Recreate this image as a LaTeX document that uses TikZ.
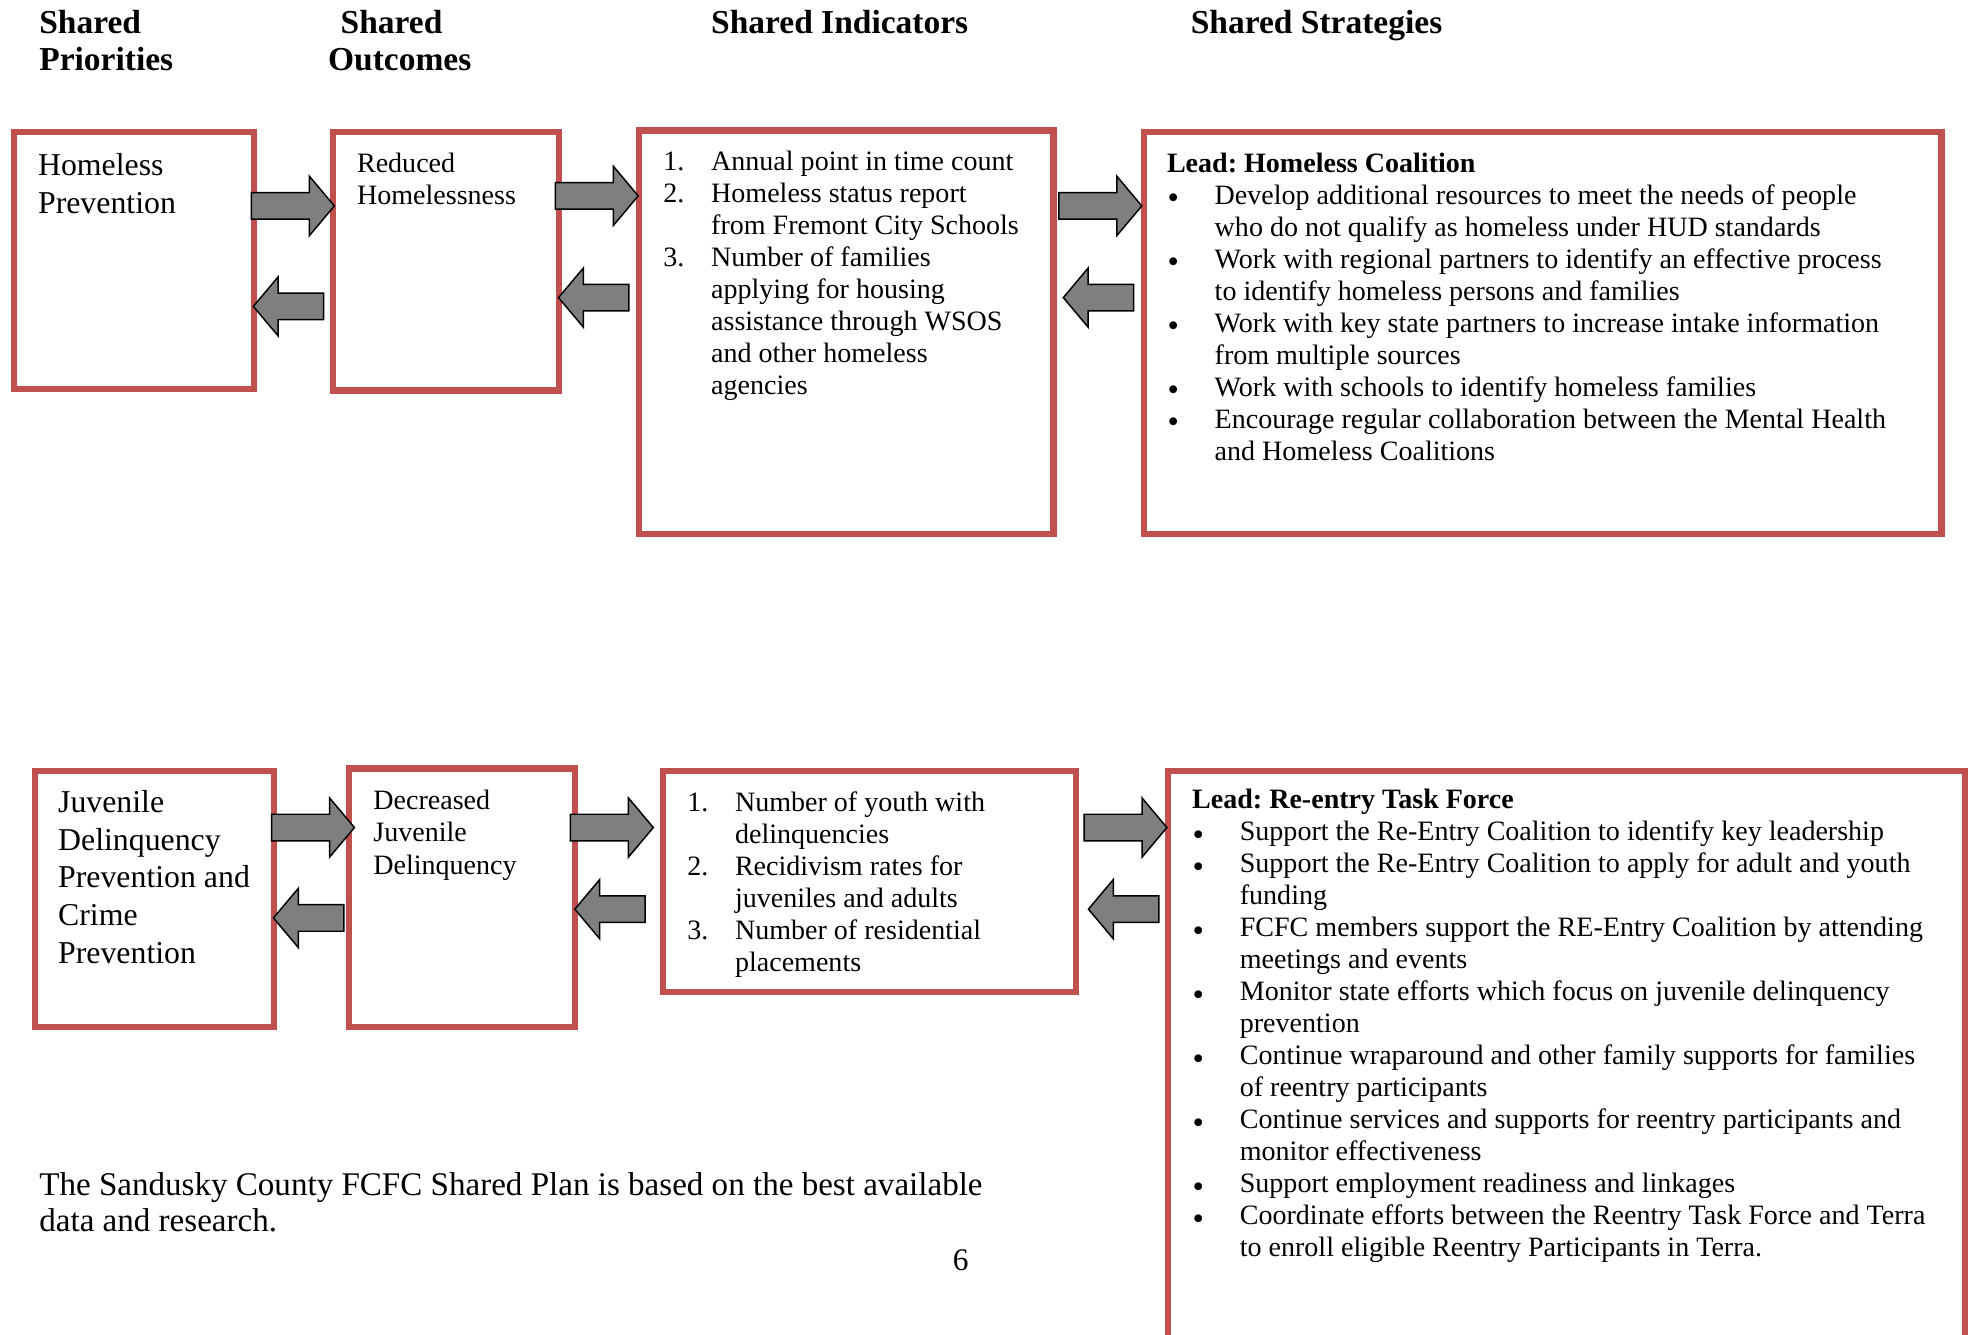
\documentclass[tikz,border=0pt]{standalone}
\usepackage{fontspec}
\setmainfont{Liberation Serif}
\usepackage{tikz}
\usetikzlibrary{shapes,arrows,positioning,fit}
\usepackage{xcolor}
\frenchspacing

\definecolor{boxred}{HTML}{C0504D}
\definecolor{arrowgray}{HTML}{7F7F7F}
\newcommand{\bul}{\makebox[6pt]{\raisebox{-2.2pt}{\fontsize{15.5}{0}\selectfont\textbullet}}}

\tikzset{
    box/.style={draw=boxred, line width=3pt, inner sep=0pt},
    body/.style={anchor=base west, inner sep=0pt, font=\fontsize{13.4}{15.3}\selectfont},
    bigtext/.style={anchor=base west, inner sep=0pt, font=\fontsize{15.2}{18}\selectfont},
    head/.style={anchor=base west, inner sep=0pt, font=\bfseries\fontsize{16}{17.4}\selectfont},
    fwd/.style={single arrow, draw=black, fill=arrowgray, line width=0.7pt,
        inner xsep=0pt, inner ysep=6pt,
        minimum height=39.6pt, minimum width=27.6pt, single arrow head extend=7.8pt,
        single arrow tip angle=100, anchor=tip},
    back/.style={fwd, minimum height=33.6pt, shape border rotate=180}
}

\begin{document}
\begin{tikzpicture}[x=0.6pt, y=-0.6pt]
    \useasboundingbox (0,0) rectangle (1568,1063);

    % column headings
    \node[head] (hprio) at (31,27) {\begin{tabular}[t]{@{}l@{}}Shared\\Priorities\end{tabular}};
    \node[head] (houtc) at (261,27) {\begin{tabular}[t]{@{}l@{}}\hspace{6pt}Shared\\Outcomes\end{tabular}};
    \node[head] (hind) at (566,27) {Shared Indicators};
    \node[head] (hstrat) at (948,27) {Shared Strategies};

    % first row: homelessness
    \node[box, fit={(11,105) (202,310)}] (prio1) {};
    \node[box, fit={(265,105) (445,311)}] (outc1) {};
    \node[box, fit={(509,104) (839,425)}] (ind1) {};
    \node[box, fit={(911,105) (1546,425)}] (strat1) {};

    \node[bigtext] (prio1txt) at (30,140) {\begin{tabular}[t]{@{}l@{}}Homeless\\Prevention\end{tabular}};
    \node[body] (outc1txt) at (284,137) {\begin{tabular}[t]{@{}l@{}}Reduced\\Homelessness\end{tabular}};
    \node[body] (ind1txt) at (528,136) {\begin{tabular}[t]{@{}p{22.8pt}@{}l@{}}
        1. & Annual point in time count\\
        2. & Homeless status report\\
           & from Fremont City Schools\\
        3. & Number of families\\
           & applying for housing\\
           & assistance through WSOS\\
           & and other homeless\\
           & agencies
    \end{tabular}};
    \node[body] (strat1txt) at (929,137) {\begin{tabular}[t]{@{}p{22.8pt}@{}l@{}}
        \multicolumn{2}{@{}l@{}}{\bfseries Lead: Homeless Coalition}\\
        \bul & Develop additional resources to meet the needs of people\\
             & who do not qualify as homeless under HUD standards\\
        \bul & Work with regional partners to identify an effective process\\
             & to identify homeless persons and families\\
        \bul & Work with key state partners to increase intake information\\
             & from multiple sources\\
        \bul & Work with schools to identify homeless families\\
        \bul & Encourage regular collaboration between the Mental Health\\
             & and Homeless Coalitions
    \end{tabular}};

    \node[fwd] (fwd1) at (267,164) {};
    \node[back] (back1) at (201,244) {};
    \node[fwd] (fwd2) at (509,156) {};
    \node[back] (back2) at (444,237) {};
    \node[fwd] (fwd3) at (910,164) {};
    \node[back] (back3) at (846,237) {};

    % second row: juvenile delinquency
    \node[box, fit={(28,614) (218,818)}] (prio2) {};
    \node[box, fit={(278,612) (458,818)}] (outc2) {};
    \node[box, fit={(528,614) (857,790)}] (ind2) {};
    \node[box, fit={(930,614) (1565,1090)}] (strat2) {};

    \node[bigtext] (prio2txt) at (46,647) {\begin{tabular}[t]{@{}l@{}}Juvenile\\Delinquency\\Prevention and\\Crime\\Prevention\end{tabular}};
    \node[body] (outc2txt) at (297,645) {\begin{tabular}[t]{@{}l@{}}Decreased\\Juvenile\\Delinquency\end{tabular}};
    \node[body] (ind2txt) at (547,646) {\begin{tabular}[t]{@{}p{22.8pt}@{}l@{}}
        1. & Number of youth with\\
           & delinquencies\\
        2. & Recidivism rates for\\
           & juveniles and adults\\
        3. & Number of residential\\
           & placements
    \end{tabular}};
    \node[body] (strat2txt) at (949,644) {\begin{tabular}[t]{@{}p{22.8pt}@{}l@{}}
        \multicolumn{2}{@{}l@{}}{\bfseries Lead: Re-entry Task Force}\\
        \bul & Support the Re-Entry Coalition to identify key leadership\\
        \bul & Support the Re-Entry Coalition to apply for adult and youth\\
             & funding\\
        \bul & FCFC members support the RE-Entry Coalition by attending\\
             & meetings and events\\
        \bul & Monitor state efforts which focus on juvenile delinquency\\
             & prevention\\
        \bul & Continue wraparound and other family supports for families\\
             & of reentry participants\\
        \bul & Continue services and supports for reentry participants and\\
             & monitor effectiveness\\
        \bul & Support employment readiness and linkages\\
        \bul & Coordinate efforts between the Reentry Task Force and Terra\\
             & to enroll eligible Reentry Participants in Terra.
    \end{tabular}};

    \node[fwd] (fwd4) at (283,659) {};
    \node[back] (back4) at (217,731) {};
    \node[fwd] (fwd5) at (521,659) {};
    \node[back] (back5) at (457,724) {};
    \node[fwd] (fwd6) at (930,659) {};
    \node[back] (back6) at (866,724) {};

    % footnote and page number
    \node[anchor=base west, inner sep=0pt, font=\fontsize{15.8}{17.4}\selectfont] (note) at (31,952)
        {\begin{tabular}[t]{@{}l@{}}The Sandusky County FCFC Shared Plan is based on the best available\\data and research.\end{tabular}};
    \node[anchor=base, inner sep=0pt, font=\fontsize{15}{18}\selectfont] (pagenum) at (765,1012) {6};
\end{tikzpicture}
\end{document}
